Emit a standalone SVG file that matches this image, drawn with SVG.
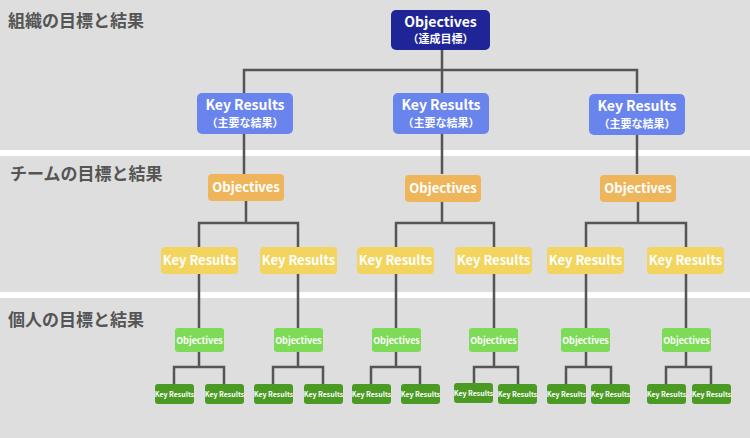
<svg xmlns="http://www.w3.org/2000/svg" width="750" height="438" viewBox="0 0 750 438">
<style>
text{font-family:"Noto Sans CJK JP","Noto Sans",sans-serif;font-weight:bold;fill:#fff;text-anchor:middle}
.sec{fill:#555;text-anchor:start;font-size:17px}
.c path{fill:none;stroke:#555;stroke-width:2.5}
.top{fill:#1f2596}.kr1{fill:#6a84ee}.o2{fill:#efb55a}.kr2{fill:#f2d45e}.o3{fill:#7ddb57}.kr3{fill:#4a9a23}
</style>
<rect width="750" height="438" fill="#dedede"/>
<rect y="150" width="750" height="6" fill="#fff"/>
<rect y="292" width="750" height="6" fill="#fff"/>
<text class="sec" x="8" y="27">組織の目標と結果</text>
<text class="sec" x="10" y="180">チームの目標と結果</text>
<text class="sec" x="8" y="326">個人の目標と結果</text>
<g class="c">
<path d="M442 50V93M244 93V70H637V93M244 134V174M442 134V174M637 134V174"/>
<path d="M246 201V223M199 247V223H298V247M442 201V223M396 247V223H494V247M638 201V223M586 247V223H686V247"/>
<path d="M199 274V328M298 274V328M396 274V328M494 274V328M586 274V328M686 274V328"/>
<path d="M199 352V367M174 384V367H224V384M298 352V367M273 384V367H323V384M396 352V367M371 384V367H420V384M494 352V367M474 384V367H518V384M586 352V367M566 384V367H611V384M686 352V367M666 384V367H711V384"/>
</g>
<g id="top"><rect class="top" x="391" y="10" width="99" height="40" rx="5"/><text x="440.500" y="27" font-size="14">Objectives</text><text x="440.500" y="43" font-size="11">（達成目標）</text></g>
<g id="kr1a"><rect class="kr1" x="197" y="93" width="96" height="41" rx="5"/><text x="245" y="110" font-size="14">Key Results</text><text x="245" y="127" font-size="11">（主要な結果）</text></g>
<g id="kr1b"><rect class="kr1" x="393" y="93" width="96" height="41" rx="5"/><text x="441" y="110" font-size="14">Key Results</text><text x="441" y="127" font-size="11">（主要な結果）</text></g>
<g id="kr1c"><rect class="kr1" x="589" y="94" width="96" height="41" rx="5"/><text x="637" y="111" font-size="14">Key Results</text><text x="637" y="128" font-size="11">（主要な結果）</text></g>
<g id="o2a"><rect class="o2" x="208" y="174" width="76" height="27" rx="4"/><text x="246" y="192" font-size="13">Objectives</text></g>
<g id="o2b"><rect class="o2" x="405" y="175" width="76" height="27" rx="4"/><text x="443" y="193" font-size="13">Objectives</text></g>
<g id="o2c"><rect class="o2" x="600" y="175" width="76" height="27" rx="4"/><text x="638" y="193" font-size="13">Objectives</text></g>
<g id="kr2a"><rect class="kr2" x="161" y="247" width="77" height="27" rx="4"/><text x="199.500" y="265" font-size="13">Key Results</text></g>
<g id="kr2b"><rect class="kr2" x="260" y="247" width="77" height="27" rx="4"/><text x="298.500" y="265" font-size="13">Key Results</text></g>
<g id="kr2c"><rect class="kr2" x="357" y="247" width="77" height="27" rx="4"/><text x="395.500" y="265" font-size="13">Key Results</text></g>
<g id="kr2d"><rect class="kr2" x="455" y="247" width="77" height="27" rx="4"/><text x="493.500" y="265" font-size="13">Key Results</text></g>
<g id="kr2e"><rect class="kr2" x="547" y="247" width="77" height="27" rx="4"/><text x="585.500" y="265" font-size="13">Key Results</text></g>
<g id="kr2f"><rect class="kr2" x="647" y="247" width="77" height="27" rx="4"/><text x="685.500" y="265" font-size="13">Key Results</text></g>
<g id="o3a"><rect class="o3" x="175" y="328" width="49" height="24" rx="3"/><text x="199.500" y="344" font-size="9">Objectives</text></g>
<g id="o3b"><rect class="o3" x="274" y="328" width="49" height="24" rx="3"/><text x="298.500" y="344" font-size="9">Objectives</text></g>
<g id="o3c"><rect class="o3" x="372" y="328" width="49" height="24" rx="3"/><text x="396.500" y="344" font-size="9">Objectives</text></g>
<g id="o3d"><rect class="o3" x="469" y="328" width="49" height="24" rx="3"/><text x="493.500" y="344" font-size="9">Objectives</text></g>
<g id="o3e"><rect class="o3" x="561" y="328" width="49" height="24" rx="3"/><text x="585.500" y="344" font-size="9">Objectives</text></g>
<g id="o3f"><rect class="o3" x="662" y="328" width="49" height="24" rx="3"/><text x="686.500" y="344" font-size="9">Objectives</text></g>
<g id="kr3"><g id="kr3a"><rect class="kr3" x="155" y="384" width="39" height="20" rx="3"/><text x="174.500" y="397" font-size="7">Key Results</text></g>
<g id="kr3b"><rect class="kr3" x="205" y="384" width="39" height="20" rx="3"/><text x="224.500" y="397" font-size="7">Key Results</text></g>
<g id="kr3c"><rect class="kr3" x="254" y="384" width="39" height="20" rx="3"/><text x="273.500" y="397" font-size="7">Key Results</text></g>
<g id="kr3d"><rect class="kr3" x="304" y="384" width="39" height="20" rx="3"/><text x="323.500" y="397" font-size="7">Key Results</text></g>
<g id="kr3e"><rect class="kr3" x="352" y="384" width="39" height="20" rx="3"/><text x="371.500" y="397" font-size="7">Key Results</text></g>
<g id="kr3f"><rect class="kr3" x="401" y="384" width="39" height="20" rx="3"/><text x="420.500" y="397" font-size="7">Key Results</text></g>
<g id="kr3g"><rect class="kr3" x="454" y="383" width="39" height="20" rx="3"/><text x="473.500" y="396" font-size="7">Key Results</text></g>
<g id="kr3h"><rect class="kr3" x="498" y="384" width="39" height="20" rx="3"/><text x="517.500" y="397" font-size="7">Key Results</text></g>
<g id="kr3i"><rect class="kr3" x="547" y="384" width="39" height="20" rx="3"/><text x="566.500" y="397" font-size="7">Key Results</text></g>
<g id="kr3j"><rect class="kr3" x="591" y="384" width="39" height="20" rx="3"/><text x="610.500" y="397" font-size="7">Key Results</text></g>
<g id="kr3k"><rect class="kr3" x="647" y="384" width="39" height="20" rx="3"/><text x="666.500" y="397" font-size="7">Key Results</text></g>
<g id="kr3l"><rect class="kr3" x="692" y="384" width="39" height="20" rx="3"/><text x="711.500" y="397" font-size="7">Key Results</text></g></g>
</svg>
